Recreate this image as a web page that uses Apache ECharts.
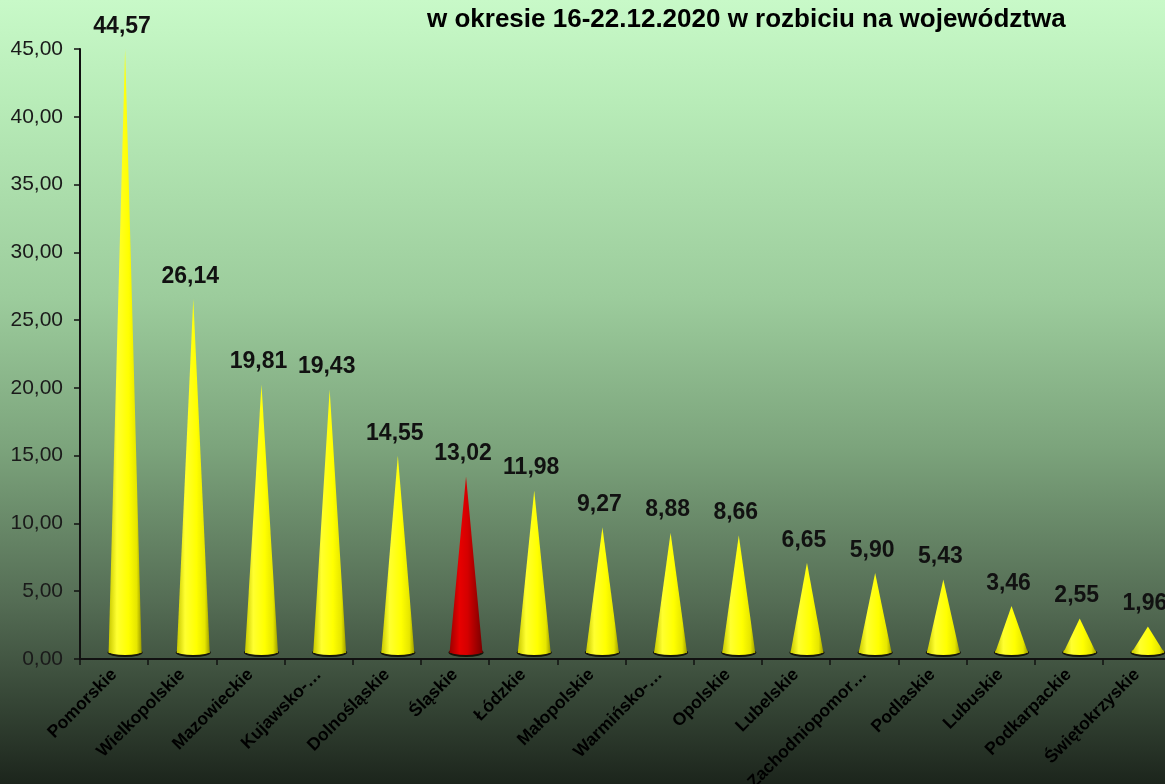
<!DOCTYPE html>
<html>
	<head>
		<title>Wojewodztwa</title>
		<script src="https://cdn.jsdelivr.net/npm/echarts@6/dist/echarts.min.js"></script>
	</head>
	<body style="margin:0;padding:0">
		<div id="chart" style="width: 1165px;height:784px;"></div>
	</body>
	<script type="text/javascript">
var myChart = echarts.init(document.getElementById('chart'));

// dane
var categories = ['Pomorskie', 'Wielkopolskie', 'Mazowieckie', 'Kujawsko-…', 'Dolnośląskie', 'Śląskie',
    'Łódzkie', 'Małopolskie', 'Warmińsko-…', 'Opolskie', 'Lubelskie', 'Zachodniopomor…',
    'Podlaskie', 'Lubuskie', 'Podkarpackie', 'Świętokrzyskie'];
var values = [44.57, 26.14, 19.81, 19.43, 14.55, 13.02, 11.98, 9.27, 8.88, 8.66, 6.65, 5.90, 5.43, 3.46, 2.55, 1.96];
var highlighted = ['Śląskie'];
var yMin = 0, yMax = 45, yStep = 5;

var font = "'Liberation Sans', Arial, sans-serif";

function pl(v) {
    return v.toFixed(2).replace('.', ',');
}

function coneColor(name) {
    if (highlighted.indexOf(name) >= 0) {
        return new echarts.graphic.LinearGradient(0, 0, 1, 0, [
            {offset: 0, color: '#9a0000'},
            {offset: 0.3, color: '#e80000'},
            {offset: 0.55, color: '#d40000'},
            {offset: 1, color: '#7a0000'}
        ]);
    }
    return new echarts.graphic.LinearGradient(0, 0, 1, 0, [
        {offset: 0, color: '#c8c800'},
        {offset: 0.25, color: '#ffff30'},
        {offset: 0.6, color: '#ffff00'},
        {offset: 0.85, color: '#e6e600'},
        {offset: 1, color: '#9c9c00'}
    ]);
}

var coneData = values.map(function(v, i) {
    return {value: v, itemStyle: {color: coneColor(categories[i])}};
});

option = {
    graphic: [{
        type: 'rect',
        z: -10,
        silent: true,
        shape: {x: 0, y: 0, width: 1165, height: 784},
        style: {
            fill: new echarts.graphic.LinearGradient(0, 0, 0, 1, [
                {offset: 0, color: '#c8f9c8'},
                {offset: 0.13, color: '#b8ecb8'},
                {offset: 0.38, color: '#9ccc9c'},
                {offset: 0.57, color: '#7ca47c'},
                {offset: 0.77, color: '#546c54'},
                {offset: 1, color: '#1c251c'}
            ])
        }
    }],
    title: {
        text: 'w okresie 16-22.12.2020 w rozbiciu na województwa',
        left: 422,
        top: 2,
        textStyle: {
            fontFamily: "'Liberation Sans Narrow', 'Liberation Sans', Arial",
            fontSize: 26,
            fontWeight: 'bold',
            color: '#000'
        }
    },
    grid: {
        left: 80,
        right: -6,
        top: 49,
        bottom: 125,
        outerBoundsMode: 'none'
    },
    xAxis: {
        type: 'category',
        data: categories,
        axisLine: {lineStyle: {color: '#111', width: 2}},
        axisTick: {show: true, length: 6, lineStyle: {color: '#111', width: 1.5}},
        axisLabel: {
            interval: 0,
            rotate: 45,
            margin: 13,
            fontFamily: font,
            fontSize: 17.5,
            fontWeight: 'bold',
            color: '#000'
        }
    },
    yAxis: {
        type: 'value',
        min: yMin,
        max: yMax,
        interval: yStep,
        splitLine: {show: false},
        axisLine: {show: true, lineStyle: {color: '#111', width: 2}},
        axisTick: {show: true, length: 6, lineStyle: {color: '#111', width: 1.5}},
        axisLabel: {
            margin: 17,
            fontFamily: font,
            fontSize: 21,
            color: '#1a1a1a',
            formatter: function(v) { return pl(v); }
        }
    },
    series: [{
        type: 'pictorialBar',
        silent: true,
        z: 1,
        symbol: 'circle',
        symbolSize: [35, 9],
        symbolPosition: 'start',
        symbolOffset: [11, -2],
        itemStyle: {color: '#15150a'},
        data: values
    }, {
        type: 'pictorialBar',
        silent: true,
        z: 2,
        symbol: 'circle',
        symbolSize: [33, 7],
        symbolPosition: 'start',
        symbolOffset: [11, -4],
        data: coneData
    }, {
        type: 'pictorialBar',
        z: 3,
        symbol: 'triangle',
        symbolSize: [33, '100%'],
        symbolOffset: [11, -6],
        label: {
            show: true,
            position: 'top',
            distance: 11,
            offset: [8, 0],
            fontFamily: font,
            fontSize: 23,
            fontWeight: 'bold',
            color: '#111',
            formatter: function(p) { return pl(p.value); }
        },
        data: coneData
    }]
};
myChart.setOption(option);
	</script>
</html>
